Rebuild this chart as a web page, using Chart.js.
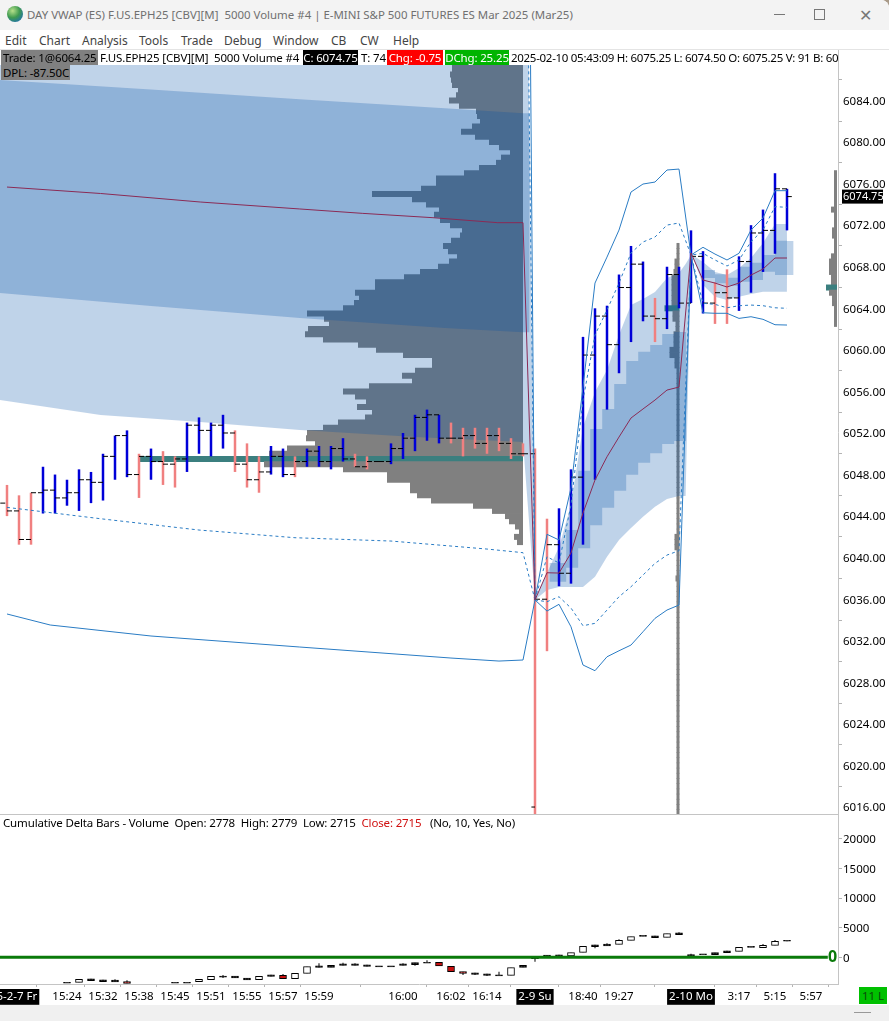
<!DOCTYPE html>
<html lang="en">
<head>
<meta charset="UTF-8">
<title>DAY VWAP (ES)</title>
<script src="https://cdn.jsdelivr.net/npm/chart.js"></script>
<style>
  html, body { margin: 0; padding: 0; background: #a99a88; }
  #win { position: relative; width: 889px; height: 1021px; overflow: hidden; background: #fff;
         border-top-right-radius: 8px; font-family: "Noto Sans", sans-serif; font-size: 11.5px; color: #000; }
  #win div, #win span { position: absolute; white-space: pre; }
  canvas { position: absolute; left: 0; }
  #titlebar { left: 0; top: 0; width: 889px; height: 30px; background: #f3f3f3; }
  #foot { left: 0; top: 1005px; width: 889px; height: 16px; background: #f0f0f0; }
  .lbl { height: 15px; line-height: 15px; top: 50px; letter-spacing: -0.15px; }
  .menu { top: 33px; color: #444; height: 15px; line-height: 15px; font-size: 12px; }
</style>
</head>
<body>
<div id="win">
  <div id="titlebar"></div>
  <div style="left:7px;top:6px;width:16px;height:16px;border-radius:8px;background:radial-gradient(circle at 35% 30%,#b6e08a,#3f9a50 45%,#1d6fb0 85%)"></div>
  <div style="left:27px;top:7px;color:#707070;font-size:11.45px;line-height:15px" id="wintitle">DAY VWAP (ES) F.US.EPH25 [CBV][M]  5000 Volume #4 | E-MINI S&amp;P 500 FUTURES ES Mar 2025 (Mar25)</div>
  <div style="left:774px;top:14px;width:11px;height:1px;background:#777"></div>
  <div style="left:814px;top:9px;width:9px;height:9px;border:1px solid #777"></div>
  <div style="left:859px;top:8px;color:#777;font-size:16px;line-height:14px">&#10005;</div>

  <div class="menu" style="left:5px">Edit</div>
  <div class="menu" style="left:39px">Chart</div>
  <div class="menu" style="left:82px">Analysis</div>
  <div class="menu" style="left:139px">Tools</div>
  <div class="menu" style="left:181px">Trade</div>
  <div class="menu" style="left:224px">Debug</div>
  <div class="menu" style="left:273px">Window</div>
  <div class="menu" style="left:331px">CB</div>
  <div class="menu" style="left:360px">CW</div>
  <div class="menu" style="left:393px">Help</div>

  <canvas id="priceChart" width="889" height="764" style="top:50px"></canvas>
  <canvas id="deltaChart" width="889" height="191" style="top:814px"></canvas>

  <div style="left:0;top:49px;width:889px;height:1px;background:#e4e4e4"></div>
  <div style="left:0;top:50px;width:838px;height:15px;background:#fff"></div>
  <div class="lbl" style="left:1px;width:97px;background:#808080;padding-left:2px;box-sizing:border-box">Trade: 1@6064.25</div>
  <div class="lbl" style="left:100px">F.US.EPH25 [CBV][M]  5000 Volume #4</div>
  <div class="lbl" style="left:303px;width:55px;background:#000;color:#fff;text-align:center">C: 6074.75</div>
  <div class="lbl" style="left:361px">T: 74</div>
  <div class="lbl" style="left:387px;width:56px;background:#f00;color:#fff;text-align:center">Chg: -0.75</div>
  <div class="lbl" style="left:445px;width:64px;background:#00b400;color:#fff;text-align:center">DChg: 25.25</div>
  <div class="lbl" style="left:511px;letter-spacing:-0.29px">2025-02-10 05:43:09 H: 6075.25 L: 6074.50 O: 6075.25 V: 91 B: 60</div>
  <div class="lbl" style="left:1px;top:65px;width:69px;background:#808080;padding-left:2px;box-sizing:border-box">DPL: -87.50C</div>

  <div style="left:0;top:814px;width:838px;height:1px;background:#c4c4c4"></div>
  <div style="left:3px;top:815px;line-height:15px;letter-spacing:-0.15px">Cumulative Delta Bars - Volume  Open: 2778  High: 2779  Low: 2715  <span style="position:static;color:#d01010">Close: 2715</span>   (No, 10, Yes, No)</div>

  <div id="foot"></div>
  <div style="left:854px;top:1012px;width:17px;height:1px;background:#999"></div>
  <div style="left:859px;top:987px;width:28px;height:17px;background:#00c000;color:#0a4a0a;text-align:center;line-height:17px">11 L</div>
</div>

<script>
  // price bars, one per 5000 volume
  const barHighs = [6047, 6046, 6046.25, 6048.75, 6048, 6047.5, 6048.5, 6048.25, 6050, 6051.75, 6052.25,
    6050, 6050.5, 6050.25, 6049.75, 6053, 6053.5, 6053, 6053.75, 6052.25, 6051, 6049.75, 6050.75, 6050.5,
    6049.75, 6050.5, 6050.75, 6050.75, 6051.5, 6050, 6049.75, 6049.25, 6051, 6052, 6053.75, 6054.25, 6053.75,
    6053, 6052.5, 6052.5, 6052.5, 6052.5, 6051.5, 6051, 6050.5, 6043.75, 6044.75, 6048.5, 6061.25, 6064,
    6064.25, 6067.25, 6070, 6068.5, 6065, 6068, 6068, 6071.5, 6069.5, 6066.5, 6067.75, 6069, 6072, 6073.5,
    6077, 6075.5];
  const barLows = [6044, 6041.25, 6041.25, 6044.25, 6044.25, 6045, 6044.5, 6045.25, 6045.5, 6047.5, 6047.75,
    6045.75, 6047.5, 6047, 6046.75, 6048.25, 6050, 6049.75, 6050.5, 6048.25, 6046.75, 6046.25, 6048, 6047.75,
    6047.75, 6048.75, 6048.75, 6048.5, 6049.25, 6048.75, 6048.5, 6049.25, 6049, 6049.5, 6050.25, 6051.25, 6051,
    6051, 6049.75, 6050.5, 6050, 6050.25, 6049.5, 6049.75, 6015.25, 6031, 6037.25, 6037.5, 6041.25, 6047.5,
    6054.25, 6057.75, 6060.75, 6062.75, 6060.75, 6062, 6064, 6064.5, 6063.5, 6062.5, 6062.5, 6063.75, 6065.5,
    6067.5, 6069.25, 6071.5];
  const barCloses = [6044.5, 6041.75, 6046.25, 6046.5, 6045.75, 6046.25, 6047.5, 6047.25, 6049.75, 6051.75, 6048,
    6049.75, 6049.25, 6049, 6049.5, 6052.75, 6052.25, 6052.75, 6052, 6049, 6047.5, 6048.25, 6049.75, 6048,
    6049.25, 6050.25, 6049.25, 6050.5, 6049.5, 6048.75, 6049.25, 6049.25, 6050.5, 6051.5, 6053.5, 6053.75, 6051.5,
    6051.5, 6051.75, 6051, 6051.75, 6051, 6050, 6050, 6036, 6041.25, 6038.5, 6047.75, 6059.5, 6063.25,
    6060.5, 6066, 6068.25, 6063.25, 6063, 6067.25, 6064.5, 6069, 6064.5, 6065.5, 6065, 6068.5, 6071.25, 6071.5,
    6075.5, 6074.75];
  const downBars = [0, 1, 2, 11, 13, 14, 19, 20, 21, 24, 29, 30, 37, 38, 39, 40, 41, 42, 43, 44, 45, 54, 59, 60];

  // VWAP centre line
  const vwapBars = [0, 7.8, 16.1, 24.4, 29.6, 35.5, 40.9, 43, 44, 45, 46, 47, 48, 49, 50, 51, 52, 53, 54, 55, 56, 57,
    58, 59, 60, 61, 62, 63, 64, 65];
  const vwapValues = [6075.67, 6075.05, 6074.23, 6073.56, 6073.14, 6072.72, 6072.24, 6072.24, 6035.93, 6038.55, 6038.52,
    6040.45, 6044.30, 6047.47, 6049.71, 6051.61, 6053.44, 6054.31, 6055.17, 6056.13, 6056.42, 6069.32,
    6066.72, 6066.43, 6066.05, 6066.43, 6067.20, 6067.78, 6068.84, 6068.84];

  // deviation lines, friday session
  const upperDashFriBars = [43, 44];
  const upperDashFri = [6133, 6035.93];
  const upperSolidFri = [6174.5, 6035.93];
  const lowerDashFriBars = [0, 8, 16, 24, 32, 40, 43, 44];
  const lowerDashFri = [6044.84, 6043.72, 6042.66, 6041.92, 6041.60, 6040.83, 6040.48, 6035.93];
  const lowerSolidFriBars = [0, 3.6, 12, 24.4, 37, 41, 43, 44];
  const lowerSolidFri = [6034.58, 6033.52, 6032.46, 6031.40, 6030.34, 6030.05, 6030.15, 6035.93];

  // deviation lines, sunday and monday sessions
  const sessionBars = [44, 45, 46, 47, 48, 49, 50, 51, 52, 53, 54, 55, 56, 57, 58, 59, 60, 61, 62, 63, 64, 65];
  const upperSolid = [6035.93, 6042.25, 6041.70, 6046.70, 6056.42, 6066.43, 6068.93, 6071.53, 6075.19, 6075.96, 6076.15,
    6077.31, 6077.40, 6069.13, 6069.87, 6069.22, 6068.65, 6069.29, 6071.53, 6072.69, 6075.32, 6075.32];
  const upperDash = [6035.93, 6040.09, 6039.48, 6045.07, 6055.17, 6061.43, 6063.83, 6066.43, 6069.32, 6070.38, 6070.86,
    6072.01, 6072.21, 6069.13, 6069.29, 6068.65, 6068.07, 6068.65, 6070.41, 6071.53, 6073.78, 6073.72];
  const lowerDash = [6035.93, 6035.76, 6036.24, 6035.15, 6033.45, 6033.68, 6034.96, 6036.24, 6037.20, 6038.33, 6039.45,
    6040.25, 6040.67, 6069.13, 6064.48, 6064.38, 6064.05, 6064.25, 6064.31, 6064.25, 6064.05, 6064.00];
  const lowerSolid = [6035.93, 6034.86, 6035.51, 6033.35, 6029.67, 6029.12, 6030.46, 6031.04, 6031.59, 6032.87, 6034.16,
    6034.96, 6035.44, 6069.13, 6063.57, 6063.52, 6063.52, 6063.03, 6063.19, 6062.94, 6062.42, 6062.39];

  // outer (light) band edges
  const lightFriBars = [-0.6, 7.8, 16.1, 24.4, 34, 43, 44];
  const lightFriTop = [6133, 6133, 6133, 6133, 6133, 6133, 6035.93];
  const lightFriBottom = [6055.17, 6053.73, 6053.06, 6052.29, 6051.61, 6051.13, 6035.93];
  const lightSunBars = [44, 45, 46, 47, 48, 49, 50, 51, 52, 53, 54, 55, 56, 56.55, 57];
  const lightSunTop = [6035.93, 6038.52, 6041.02, 6045.07, 6052.57, 6055.94, 6058.06, 6061.43, 6064.31, 6064.89, 6065.57,
    6066.91, 6067.39, 6068.26, 6069.13];
  const lightSunBottom = [6035.93, 6036.88, 6037.17, 6037.17, 6037.17, 6038.17, 6040.09, 6041.70, 6042.85, 6043.94, 6044.90,
    6045.64, 6045.93, 6045.93, 6069.13];
  const lightMonBars = [57.1, 58, 59, 60, 61, 62, 63, 64, 64.99, 65, 65.55];
  const lightMonTop = [6069.13, 6068.45, 6067.49, 6067.20, 6067.88, 6068.84, 6070.28, 6072.11, 6072.11, 6070.47, 6070.47];
  const lightMonBottom = [6069.13, 6066.24, 6065.11, 6064.80, 6065.11, 6065.37, 6065.60, 6065.60, 6065.60, 6067.20, 6067.20];

  // inner (mid) band edges
  const midFriBars = [-0.6, 12, 24.4, 36.5, 43, 43.55];
  const midFriTop = [6085.97, 6085.06, 6084.12, 6083.25, 6082.77, 6082.77];
  const midFriBottom = [6065.47, 6064.22, 6063.07, 6062.10, 6061.69, 6061.69];
  const midSunBars = [45.2, 46.1, 47.1, 48.1, 49.1, 50.1, 51.1, 52.1, 53.1, 54.1, 55.1, 56.1, 56.6];
  const midSunTop = [6039.48, 6039.48, 6042.66, 6048.37, 6052.38, 6054.31, 6056.71, 6058.93, 6059.82, 6060.47, 6061.52,
    6061.72, 6061.72];
  const midSunBottom = [6037.68, 6037.68, 6039.03, 6040.90, 6043.11, 6044.81, 6046.44, 6047.98, 6049.14, 6050.04, 6050.94,
    6051.23, 6051.23];
  const midMonBars = [58, 59, 60, 61, 62, 63, 64, 65];
  const midMonTop = [6067.68, 6067.27, 6066.94, 6068.00, 6068.39, 6069.13, 6070.50, 6070.50];
  const midMonBottom = [6066.91, 6066.40, 6066.17, 6066.56, 6066.72, 6067.52, 6067.20, 6067.20];

  // volume at price, half point rows, highest row first
  const friTopPrice = 6087.5;
  const friVolumes = [71, 71, 73, 72, 71, 65, 67, 74, 64, 47, 46, 43, 51, 62, 48, 34, 24, 13, 22, 27, 44, 59, 87, 87, 102,
    151, 111, 97, 84, 89, 83, 73, 61, 63, 72, 80, 75, 66, 74, 85, 103, 119, 148, 148, 168, 164, 169, 180, 216,
    199, 194, 215, 218, 200, 165, 147, 120, 91, 91, 108, 121, 111, 154, 180, 168, 157, 166, 151, 158, 185, 200,
    216, 217, 208, 236, 254, 383, 259, 180, 136, 136, 113, 113, 106, 92, 50, 31, 18, 14, 8, 4, 9, 6];
  const friPoc = 6049.5;
  const sunTopPrice = 6070;
  const sunVolumes = [3, 3, 3, 5, 5, 6, 8, 8, 8, 8, 8, 8, 15, 7, 7, 4, 4, 6, 6, 6, 10, 10, 5, 5,
    3, 3, 3, 3, 3, 3, 3, 3, 3, 3, 3, 3, 3, 3, 3, 3, 3, 3, 3, 3, 3, 3, 3, 3, 3, 3, 3, 3, 3, 3, 3, 3,
    5, 5, 5, 3, 3, 3, 3, 3, 4,
    3, 3, 3, 3, 3, 3, 3, 3, 3, 3, 3, 3, 3, 3, 3, 3, 3, 3, 3, 3, 3, 3, 3, 3, 3, 3, 3, 3, 3, 3, 3, 3, 3, 3, 3, 3, 3, 3, 3, 3, 3,
    3, 3, 3, 3, 3, 3];
  const sunPoc = 6064;
  const monTopPrice = 6077;
  const monVolumes = [3, 3, 3, 3, 3, 3, 3, 6, 3, 3, 3, 5, 5, 3, 3, 3, 6, 8, 8, 8, 6, 6, 11, 8, 5, 5, 3, 3, 3, 3];
  const monPoc = 6066;

  const priceTicks = [6016, 6020, 6024, 6028, 6032, 6036, 6040, 6044, 6048, 6052, 6056, 6060, 6064, 6068, 6072, 6076, 6080, 6084];

  // cumulative delta bars
  const deltaOpen = [null, null, null, null, null, -4240, -4228, -3930, -4100, -4150, -4116, null, null, null, -4240, -4240,
    -4116, -3778, -3240, -3480, -3815, -3778, -3250, -3046, -3609, -2708, -1730, -1695, -1390, -1390, -1560, -1485, -1485,
    -1390, -1244, -865, -850, -1526, -2427, -2910, -3080, -3005, -3046, -1695, -80, 205, 130, 220, 839, 1815, 1930, 2190,
    2866, 3525, 3335, 3372, 3840, 107, 430, 445, 800, 1008, 1670, 1627, 2021, 2778];
  const deltaClose = [null, null, null, null, null, -4210, -3721, -3630, -3800, -3850, -4397, null, null, null, -4210, -4210,
    -3721, -3215, -3190, -3180, -3515, -3215, -2950, -3609, -2708, -1582, -1430, -1357, -1090, -1090, -1260, -1455, -1455,
    -1090, -906, -835, -1469, -2427, -2708, -2610, -2780, -2975, -1751, -1357, -50, 235, 430, 783, 1852, 2115, 2230, 2866,
    3485, 3555, 3635, 3992, 4140, 445, 460, 783, 1100, 1684, 1700, 2021, 2697, 2715];
  const deltaHigh = [null, null, null, null, null, -4210, -3721, -3630, -3800, -3721, -3890, null, null, null, -4210, -4210,
    -3721, -3215, -2990, -3180, -3515, -3215, -2950, -2821, -2708, -1582, -1019, -1357, -906, -1019, -1260, -1455, -1455,
    -1019, -906, -512, -850, -1526, -2427, -2595, -2780, -2427, -1751, -1357, -50, 332, 430, 783, 1852, 2115, 2359, 3035,
    3485, 3555, 3635, 3992, 4217, 614, 460, 783, 1100, 1684, 1700, 2246, 2922, 2779];
  const deltaLow = [null, null, null, null, null, -4240, -4228, -3930, -4100, -4150, -4397, null, null, null, -4240, -4240,
    -4116, -3778, -3496, -3480, -3815, -3778, -3250, -3609, -3609, -2708, -1730, -1695, -1390, -1390, -1560, -1485, -1485,
    -1390, -1413, -865, -1469, -2427, -2990, -2990, -3158, -3005, -3046, -1695, -738, 205, 130, 220, 839, 1515, 1930, 2190,
    2866, 3525, 3335, 3372, 3840, 107, 430, 445, 800, 1008, 1670, 1627, 2021, 2715];
  const deltaTicks = [0, 5000, 10000, 15000, 20000];

  // time axis
  const timeTickBars = [0, 5, 8, 11, 14, 17, 20, 23, 26, 33, 37, 40, 44, 48, 51, 57, 61, 64, 67];
  const timeTickLabels = ['2025-2-7 Fr', '15:24', '15:32', '15:38', '15:45', '15:51', '15:55', '15:57', '15:59', '16:00',
    '16:02', '16:14', '2-9 Su', '18:40', '19:27', '2-10 Mo', '3:17', '5:15', '5:57'];
  const dateTicks = ['2025-2-7 Fr', '2-9 Su', '2-10 Mo'];

  // 12 pixels per bar, first bar 7 pixels in
  const xMin = -0.5833, xMax = 69.25;
  const BLUE_LINE = '#2a7cc4', BAND = 'rgba(0,80,168,0.25)', GRAY = '#808080', TEAL = '#3b7f7f';

  Chart.defaults.font.family = '"Noto Sans", sans-serif';
  Chart.defaults.font.size = 11.5;
  Chart.defaults.color = '#000';

  const pts = (xs, ys) => xs.map((x, k) => ({ x: x, y: ys[k] }));

  // a filled band is an upper line filled to the lower line just after it
  function band(xs, top, bottom, order, stepped) {
    return [
      { type: 'line', data: pts(xs, top), fill: '+1', backgroundColor: BAND, borderWidth: 0, pointRadius: 0, stepped: stepped || false, order: order },
      { type: 'line', data: pts(xs, bottom), fill: false, borderWidth: 0, pointRadius: 0, stepped: stepped || false, order: order }
    ];
  }

  function devLine(xs, ys, dashed) {
    return { type: 'line', data: pts(xs, ys), borderColor: BLUE_LINE, borderWidth: 1, borderDash: dashed ? [3, 3] : [], pointRadius: 0, order: 1 };
  }

  // one profile, bars grow left from the anchor pixel on the hidden xp scale
  function profile(topPrice, volumes, poc, anchor) {
    return {
      type: 'bar', indexAxis: 'y', xAxisID: 'xp', yAxisID: 'y', grouped: false, barThickness: 6, inflateAmount: 0, order: 20,
      data: volumes.map((v, k) => ({ x: [anchor - v, anchor], y: topPrice - k * 0.5 })),
      backgroundColor: ctx => (ctx.raw && ctx.raw.y === poc ? TEAL : GRAY)
    };
  }

  // the dashes running from each bar over to the next one
  const closeDashes = [];
  barCloses.forEach((c, i) => {
    closeDashes.push({ x: i, y: c }, { x: i === 65 ? 65.4 : i + 1, y: c }, { x: i + 1, y: null });
  });
  closeDashes.unshift({ x: -0.56, y: 6045.25 }, { x: 0, y: 6045.25 }, { x: 0, y: null }, { x: 43.7, y: 6016 }, { x: 44, y: 6016 }, { x: 44, y: null });

  const lastPriceTag = {
    id: 'lastPriceTag',
    afterDraw(chart) {
      const c = chart.ctx, y = chart.scales.y.getPixelForValue(barCloses[65]);
      c.save();
      c.fillStyle = '#000';
      c.fillRect(842, y - 7, 41, 14);
      c.fillStyle = '#fff';
      c.font = '11px "Noto Sans"';
      c.textBaseline = 'middle';
      c.fillText(barCloses[65].toFixed(2), 843, y);
      c.restore();
    }
  };

  new Chart(document.getElementById('priceChart'), {
    type: 'bar',
    data: {
      datasets: [
        profile(friTopPrice, friVolumes, friPoc, 523),
        profile(sunTopPrice, sunVolumes, sunPoc, 679.5),
        profile(monTopPrice, monVolumes, monPoc, 837),
        ...band(lightFriBars, lightFriTop, lightFriBottom, 10),
        ...band(lightSunBars, lightSunTop, lightSunBottom, 10),
        ...band(lightMonBars, lightMonTop, lightMonBottom, 10),
        ...band(midFriBars, midFriTop, midFriBottom, 9),
        ...band(midSunBars, midSunTop, midSunBottom, 9, 'middle'),
        ...band(midMonBars, midMonTop, midMonBottom, 9, 'before'),
        {
          type: 'bar', grouped: false, barThickness: 2.5, inflateAmount: 0, order: 5,
          data: barHighs.map((h, i) => ({ x: i, y: [barLows[i], h] })),
          backgroundColor: ctx => (downBars.includes(ctx.dataIndex) ? '#f08080' : '#0000d8')
        },
        { type: 'line', data: closeDashes, borderColor: '#000', borderWidth: 1, borderDash: [5, 2], pointRadius: 0, order: 4 },
        devLine(upperDashFriBars, upperDashFri, true),
        devLine(upperDashFriBars, upperSolidFri, false),
        devLine(lowerDashFriBars, lowerDashFri, true),
        devLine(lowerSolidFriBars, lowerSolidFri, false),
        devLine(sessionBars, upperSolid, false),
        devLine(sessionBars, upperDash, true),
        devLine(sessionBars, lowerDash, true),
        devLine(sessionBars, lowerSolid, false),
        { type: 'line', data: pts(vwapBars, vwapValues), borderColor: '#8a2a55', borderWidth: 1, pointRadius: 0, order: 0 }
      ]
    },
    options: {
      responsive: false,
      animation: false,
      devicePixelRatio: 1,
      layout: { padding: 0 },
      plugins: { legend: { display: false }, tooltip: { enabled: false } },
      scales: {
        x: { type: 'linear', offset: false, min: xMin, max: xMax, display: false },
        xp: { type: 'linear', offset: false, min: 0, max: 838, display: false },
        y: {
          position: 'right',
          offset: false,
          min: 6015.33,
          max: 6088.86,
          afterBuildTicks: s => { s.ticks = priceTicks.map(v => ({ value: v })); },
          afterFit: s => { s.width = 51; s.paddingTop = 0; s.paddingBottom = 0; },
          grid: { drawOnChartArea: false, tickLength: 4, color: '#b4b4b4' },
          border: { color: '#c4c4c4' },
          ticks: { padding: 1, labelOffset: 1, autoSkip: false, callback: v => v.toFixed(2) }
        }
      }
    },
    plugins: [lastPriceTag]
  });

  const wickRows = [], bodyRows = [];
  deltaOpen.forEach((o, i) => {
    if (o === null) return;
    wickRows.push({ x: i, y: [deltaLow[i], deltaHigh[i]] });
    bodyRows.push({ x: i, y: [o, deltaClose[i]] });
  });

  const zeroTag = {
    id: 'zeroTag',
    afterDraw(chart) {
      const c = chart.ctx;
      c.save();
      c.fillStyle = '#0a7a0a';
      c.font = 'bold 16px "Noto Sans"';
      c.textBaseline = 'middle';
      c.fillText('0', 828, chart.scales.y.getPixelForValue(0));
      c.restore();
    }
  };

  new Chart(document.getElementById('deltaChart'), {
    type: 'bar',
    data: {
      datasets: [
        { type: 'line', data: [{ x: xMin, y: 0 }, { x: 68.4, y: 0 }], borderColor: '#0a7a0a', borderWidth: 3, pointRadius: 0, order: 1 },
        { type: 'bar', grouped: false, barThickness: 1, inflateAmount: 0, data: wickRows, backgroundColor: '#000', order: 3 },
        {
          type: 'bar', grouped: false, barThickness: 7, minBarLength: 1, data: bodyRows, borderColor: '#000', borderWidth: 1, borderSkipped: false, order: 2,
          backgroundColor: ctx => {
            const r = ctx.raw ? ctx.raw.y : [0, 0];
            if (r[0] - r[1] > 100) return '#c81010';
            return Math.abs(r[0] - r[1]) < 340 ? '#000' : '#fff';
          }
        }
      ]
    },
    options: {
      responsive: false,
      animation: false,
      devicePixelRatio: 1,
      layout: { padding: 0 },
      plugins: { legend: { display: false }, tooltip: { enabled: false } },
      scales: {
        x: {
          type: 'linear',
          offset: false,
          min: xMin,
          max: xMax,
          position: 'bottom',
          afterBuildTicks: s => { s.ticks = timeTickBars.map(v => ({ value: v })); },
          afterFit: s => { s.height = 21; s.paddingLeft = 0; s.paddingRight = 0; },
          grid: { drawOnChartArea: false, tickLength: 3, color: '#b4b4b4' },
          border: { color: '#c4c4c4' },
          ticks: {
            autoSkip: false,
            maxRotation: 0,
            padding: 3,
            callback: v => timeTickLabels[timeTickBars.indexOf(v)],
            color: ctx => (dateTicks.includes(timeTickLabels[timeTickBars.indexOf(ctx.tick.value)]) ? '#fff' : '#000'),
            showLabelBackdrop: ctx => dateTicks.includes(timeTickLabels[timeTickBars.indexOf(ctx.tick.value)]),
            backdropColor: '#000',
            backdropPadding: { x: 2, y: 1 }
          }
        },
        y: {
          position: 'right',
          offset: false,
          min: -4510,
          max: 24203,
          afterBuildTicks: s => { s.ticks = deltaTicks.map(v => ({ value: v })); },
          afterFit: s => { s.width = 51; s.paddingTop = 0; s.paddingBottom = 0; },
          grid: { drawOnChartArea: false, tickLength: 4, color: '#b4b4b4' },
          border: { color: '#c4c4c4' },
          ticks: { padding: 1, labelOffset: 1, autoSkip: false, callback: v => String(v) }
        }
      }
    },
    plugins: [zeroTag]
  });
</script>
</body>
</html>
